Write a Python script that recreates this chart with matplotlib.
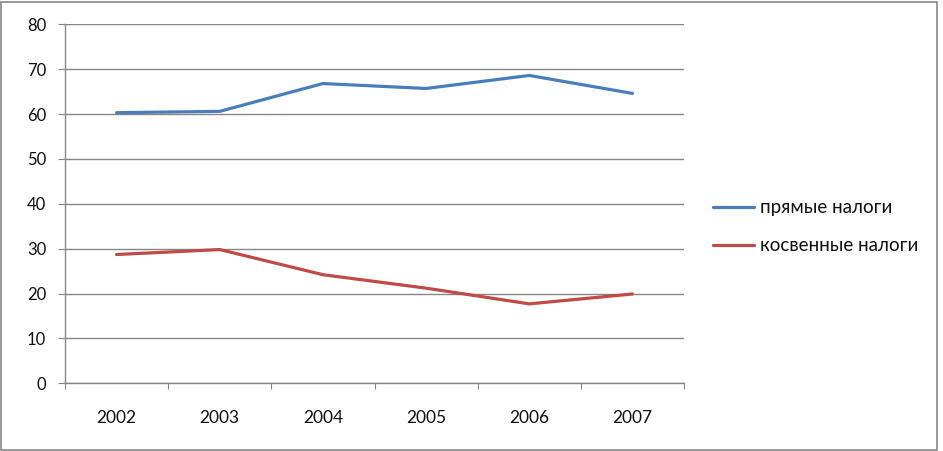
import matplotlib
matplotlib.use("Agg")
import matplotlib.pyplot as plt
from matplotlib.patches import Rectangle

years = ["2002", "2003", "2004", "2005", "2006", "2007"]
direct_taxes = [60.3, 60.6, 66.8, 65.7, 68.6, 64.6]
indirect_taxes = [28.7, 29.8, 24.2, 21.2, 17.7, 19.9]
series_labels = ["прямые налоги", "косвенные налоги"]
yticks = [0, 10, 20, 30, 40, 50, 60, 70, 80]

plt.rcParams['font.family'] = ['Lato', 'DejaVu Sans']

W, H = 943, 451
fig = plt.figure(figsize=(W / 100, H / 100), dpi=100)
fig.patch.set_facecolor("white")
fig.patches.append(Rectangle((1 / W, 1 / H), (W - 7) / W, (H - 3) / H,
                             transform=fig.transFigure, fill=False,
                             edgecolor="#868686", linewidth=1.2))

left, right, top, bottom = 65, 684, 24.3, 383.3
ax = fig.add_axes([left / W, (H - bottom) / H, (right - left) / W, (bottom - top) / H])

x = list(range(len(years)))
ax.plot(x, direct_taxes, color="#4A7EBB", linewidth=2.3, solid_capstyle="round",
        label=series_labels[0])
ax.plot(x, indirect_taxes, color="#BE4B48", linewidth=2.3, solid_capstyle="round",
        label=series_labels[1])

ax.set_xlim(-0.5, len(years) - 0.5)
ax.set_ylim(0, 80)
ax.set_yticks(yticks)
ax.set_yticklabels([str(v) for v in yticks])
ax.yaxis.grid(True, color="#868686", linewidth=1.0)
ax.set_axisbelow(True)

ax.set_xticks([i - 0.5 for i in range(len(years) + 1)])
ax.set_xticklabels([])
ax.set_xticks(x, minor=True)
ax.set_xticklabels(years, minor=True)
ax.tick_params(axis="x", which="major", length=4.5, color="#868686", direction="out")
ax.tick_params(axis="x", which="minor", length=0, pad=19, labelsize=12.5, labelcolor="#111111")
ax.tick_params(axis="y", length=5, color="#868686", pad=8.5, labelsize=12, labelcolor="#111111")

for s in ["top", "right"]:
    ax.spines[s].set_visible(False)
for s in ["left", "bottom"]:
    ax.spines[s].set_color("#868686")
    ax.spines[s].set_linewidth(1.0)

leg = fig.legend(loc="upper left", bbox_to_anchor=(713 / W, 1 - 199.5 / H), frameon=False,
                 fontsize=13.5, handlelength=2.2, handletextpad=0.32, labelspacing=1.1,
                 borderpad=0, borderaxespad=0)
for t in leg.get_texts():
    t.set_color("#111111")

fig.savefig("out.png", dpi=100)
